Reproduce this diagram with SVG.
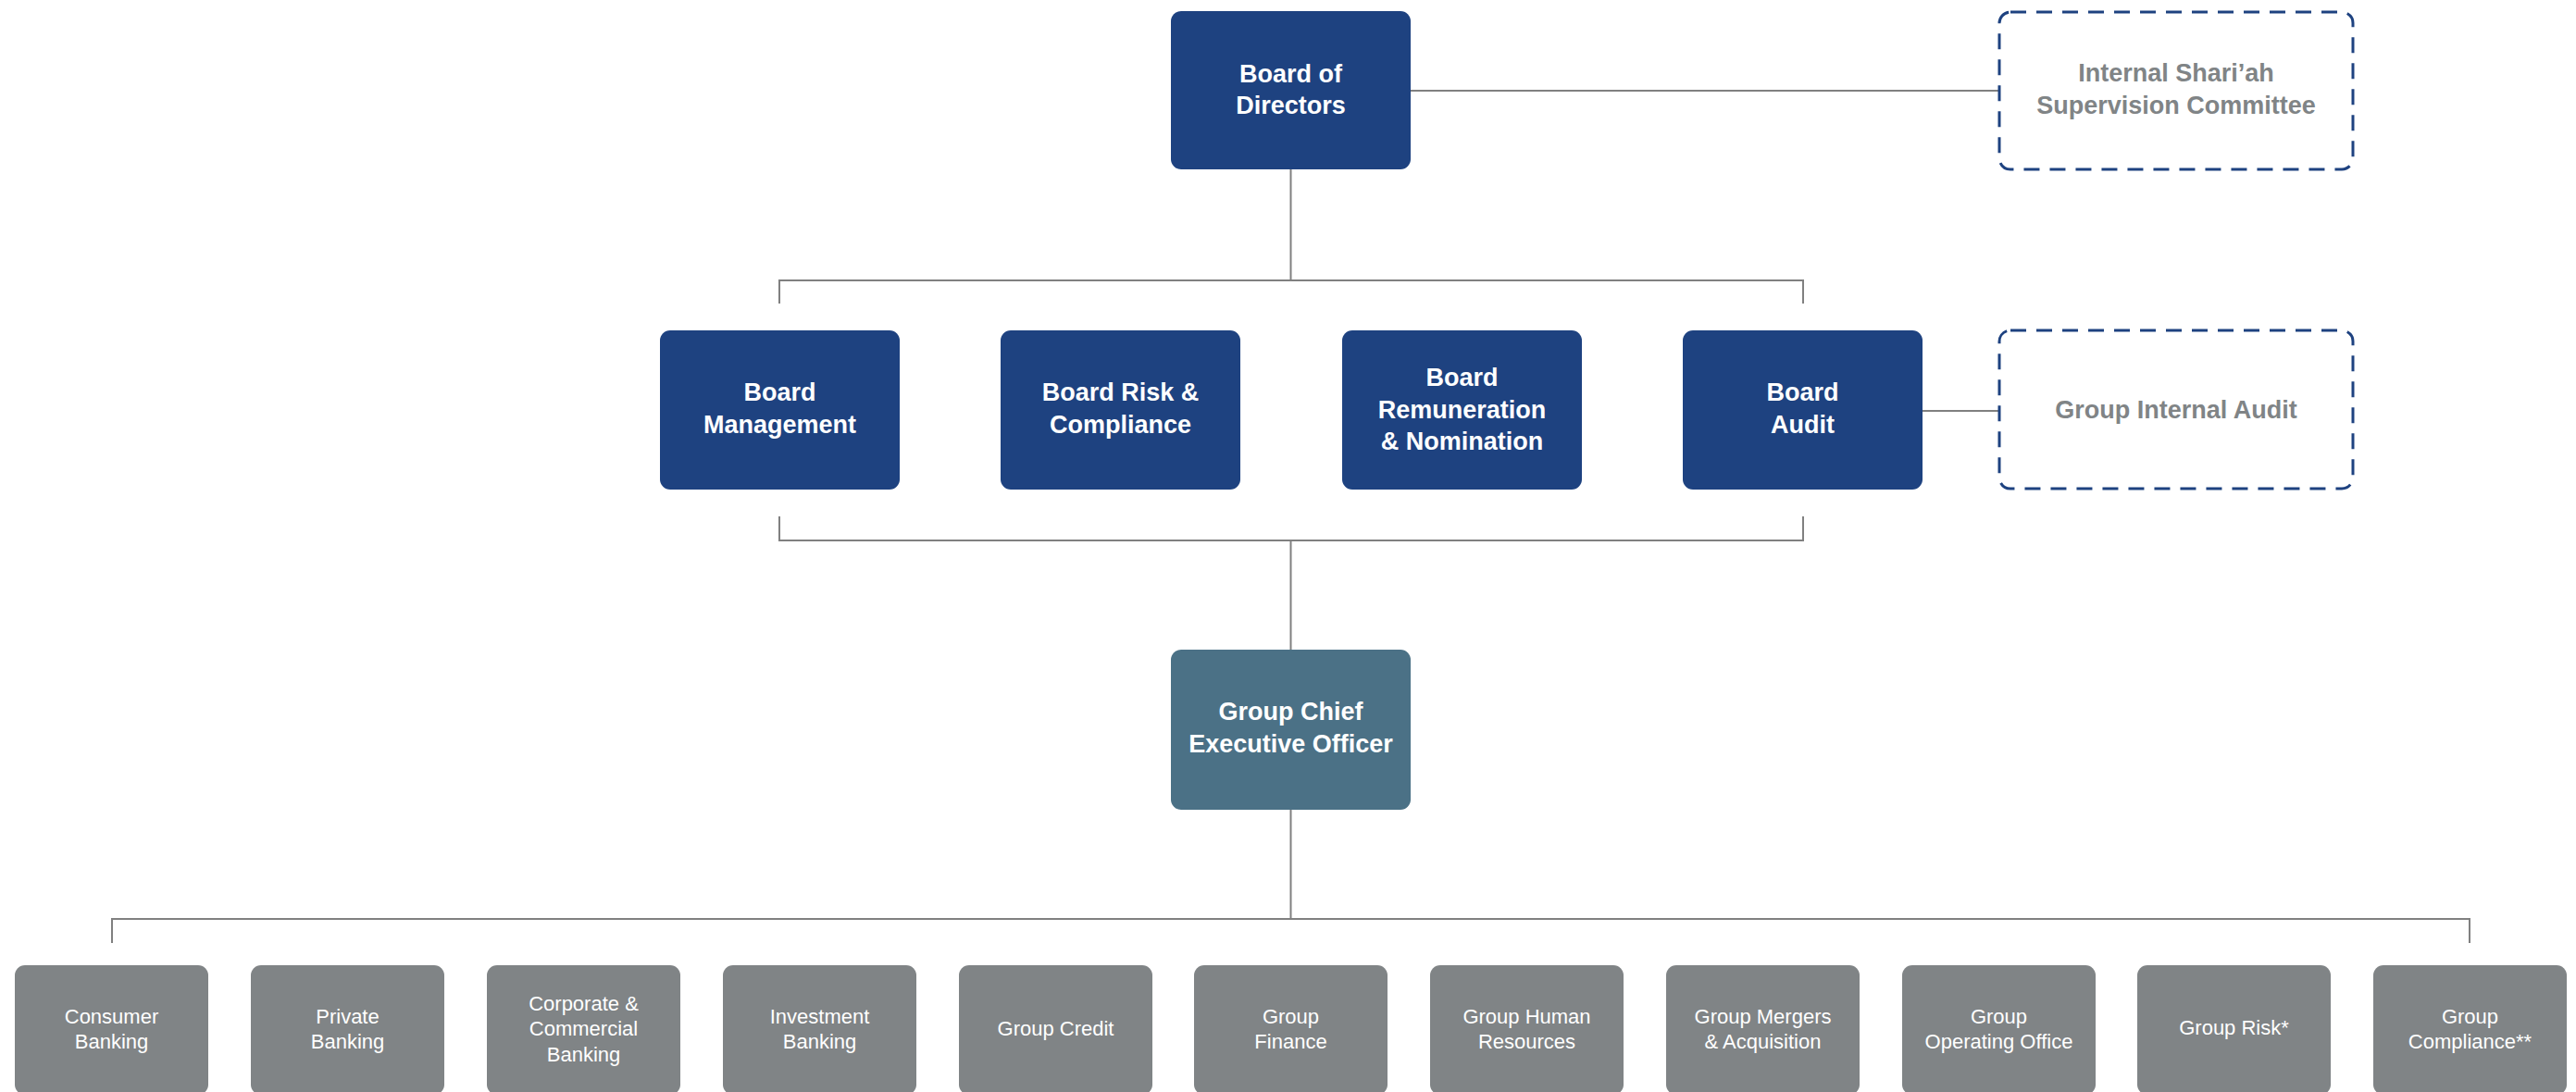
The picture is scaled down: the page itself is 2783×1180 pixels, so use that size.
<svg xmlns="http://www.w3.org/2000/svg" width="2783" height="1180" viewBox="0 0 2783 1180">
<style>
.board{fill:#1e4280}
.ceo{fill:#4b7186}
.unit{fill:#808486}
.ext{fill:#ffffff;stroke:#1e4280;stroke-width:3;stroke-dasharray:17 11}
.tb{font-family:"Liberation Sans",Arial,sans-serif;font-weight:bold;font-size:27px;fill:#ffffff;text-anchor:middle}
.tg{font-family:"Liberation Sans",Arial,sans-serif;font-weight:bold;font-size:27px;fill:#808486;text-anchor:middle}
.tu{font-family:"Liberation Sans",Arial,sans-serif;font-size:22px;fill:#ffffff;text-anchor:middle}
.ln{fill:none;stroke:#808080;stroke-width:2}
</style>
<rect width="2783" height="1180" fill="#ffffff"/>
<g id="connectors">
<path class="ln" d="M1524 98H2160"/>
<path class="ln" d="M1394.5 183V303"/>
<path class="ln" d="M842 328V303H1948V328"/>
<path class="ln" d="M2077 444H2159"/>
<path class="ln" d="M842 558V584H1948V558"/>
<path class="ln" d="M1394.5 584V702"/>
<path class="ln" d="M1394.5 875V993"/>
<path class="ln" d="M121 1019V993H2668V1019"/>
</g>
<g id="board-of-directors">
<rect class="board" x="1265" y="12" width="259" height="171" rx="11"/>
<text class="tb" x="1394.5" y="89">Board of</text>
<text class="tb" x="1394.5" y="123">Directors</text>
</g>
<g id="internal-shariah">
<rect class="ext" x="2160" y="13" width="382" height="170" rx="12"/>
<text class="tg" x="2351" y="88">Internal Shari’ah</text>
<text class="tg" x="2351" y="123">Supervision Committee</text>
</g>
<g id="board-management">
<rect class="board" x="713" y="357" width="259" height="172" rx="11"/>
<text class="tb" x="842.5" y="433">Board</text>
<text class="tb" x="842.5" y="468">Management</text>
</g>
<g id="board-risk">
<rect class="board" x="1081" y="357" width="259" height="172" rx="11"/>
<text class="tb" x="1210.5" y="433">Board Risk &amp;</text>
<text class="tb" x="1210.5" y="468">Compliance</text>
</g>
<g id="board-remuneration">
<rect class="board" x="1450" y="357" width="259" height="172" rx="11"/>
<text class="tb" x="1579.5" y="417">Board</text>
<text class="tb" x="1579.5" y="452">Remuneration</text>
<text class="tb" x="1579.5" y="486">&amp; Nomination</text>
</g>
<g id="board-audit">
<rect class="board" x="1818" y="357" width="259" height="172" rx="11"/>
<text class="tb" x="1947.5" y="433">Board</text>
<text class="tb" x="1947.5" y="468">Audit</text>
</g>
<g id="group-internal-audit">
<rect class="ext" x="2160" y="357" width="382" height="171" rx="12"/>
<text class="tg" x="2351" y="452">Group Internal Audit</text>
</g>
<g id="gceo">
<rect class="ceo" x="1265" y="702" width="259" height="173" rx="11"/>
<text class="tb" x="1394.5" y="778">Group Chief</text>
<text class="tb" x="1394.5" y="813">Executive Officer</text>
</g>
<g id="consumer-banking">
<rect class="unit" x="16" y="1043" width="209" height="140" rx="11"/>
<text class="tu" x="120.5" y="1106">Consumer</text>
<text class="tu" x="120.5" y="1133">Banking</text>
</g>
<g id="private-banking">
<rect class="unit" x="271" y="1043" width="209" height="140" rx="11"/>
<text class="tu" x="375.5" y="1106">Private</text>
<text class="tu" x="375.5" y="1133">Banking</text>
</g>
<g id="corporate-banking">
<rect class="unit" x="526" y="1043" width="209" height="140" rx="11"/>
<text class="tu" x="630.5" y="1092">Corporate &amp;</text>
<text class="tu" x="630.5" y="1119">Commercial</text>
<text class="tu" x="630.5" y="1147">Banking</text>
</g>
<g id="investment-banking">
<rect class="unit" x="781" y="1043" width="209" height="140" rx="11"/>
<text class="tu" x="885.5" y="1106">Investment</text>
<text class="tu" x="885.5" y="1133">Banking</text>
</g>
<g id="group-credit">
<rect class="unit" x="1036" y="1043" width="209" height="140" rx="11"/>
<text class="tu" x="1140.5" y="1119">Group Credit</text>
</g>
<g id="group-finance">
<rect class="unit" x="1290" y="1043" width="209" height="140" rx="11"/>
<text class="tu" x="1394.5" y="1106">Group</text>
<text class="tu" x="1394.5" y="1133">Finance</text>
</g>
<g id="group-hr">
<rect class="unit" x="1545" y="1043" width="209" height="140" rx="11"/>
<text class="tu" x="1649.5" y="1106">Group Human</text>
<text class="tu" x="1649.5" y="1133">Resources</text>
</g>
<g id="group-ma">
<rect class="unit" x="1800" y="1043" width="209" height="140" rx="11"/>
<text class="tu" x="1904.5" y="1106">Group Mergers</text>
<text class="tu" x="1904.5" y="1133">&amp; Acquisition</text>
</g>
<g id="group-operating">
<rect class="unit" x="2055" y="1043" width="209" height="140" rx="11"/>
<text class="tu" x="2159.5" y="1106">Group</text>
<text class="tu" x="2159.5" y="1133">Operating Office</text>
</g>
<g id="group-risk">
<rect class="unit" x="2309" y="1043" width="209" height="140" rx="11"/>
<text class="tu" x="2413.5" y="1118">Group Risk*</text>
</g>
<g id="group-compliance">
<rect class="unit" x="2564" y="1043" width="209" height="140" rx="11"/>
<text class="tu" x="2668.5" y="1106">Group</text>
<text class="tu" x="2668.5" y="1133">Compliance**</text>
</g>
</svg>
